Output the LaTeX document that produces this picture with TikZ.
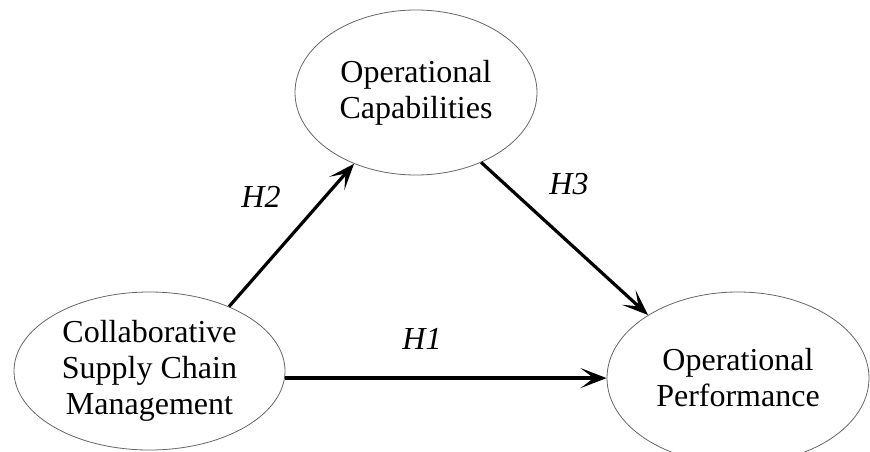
\documentclass[tikz,border=0pt]{standalone}
\usepackage{fontspec}
\setmainfont{Liberation Serif}
\usetikzlibrary{shapes.geometric,arrows.meta}
\begin{document}
\begin{tikzpicture}[x=1pt,y=-1pt,
  construct/.style={ellipse,draw=black!60,line width=0.8pt,inner sep=0pt,align=center,
    font=\fontsize{32}{36}\selectfont},
  hyp/.style={line width=3.2pt,-{Stealth[length=26pt,width=20pt,inset=13pt]}},
  hlabel/.style={font=\fontsize{32}{36}\selectfont\itshape}]
\useasboundingbox (0,0) rectangle (870,452);
\node[construct,minimum width=242pt,minimum height=165pt] (oc) at (416,92.5) {Operational\\Capabilities};
\node[construct,minimum width=271pt,minimum height=158pt] (csc) at (149.5,371) {Collaborative\\Supply Chain\\Management};
\node[construct,minimum width=262pt,minimum height=172pt] (op) at (738,378) {Operational\\Performance};
\draw[hyp] (csc.39.5) -- (oc.229);
\draw[hyp] (oc.-47.4) -- (op.145);
\draw[hyp] (csc.-3.5) -- (csc.-3.5 -| op.west);
\node[hlabel] (h2) at (261,197) {H2};
\node[hlabel] (h3) at (569,184) {H3};
\node[hlabel] (h1) at (422,339) {H1};
\end{tikzpicture}
\end{document}
